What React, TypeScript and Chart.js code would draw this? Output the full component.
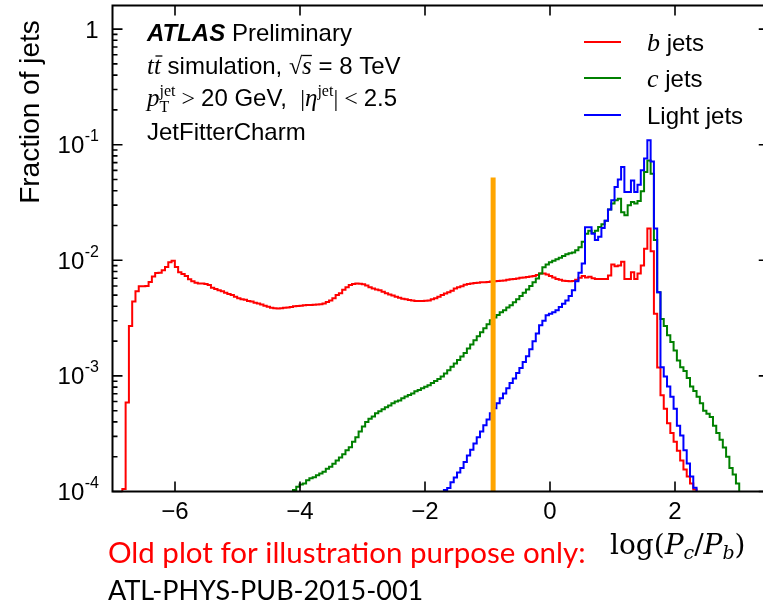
import React, { useEffect, useRef } from "react";
import { Chart, registerables } from "chart.js";

Chart.register(...registerables);

// ---------- axis ranges & ticks ----------
const X_MIN = -7;
const X_MAX = 3.4;
const FRAME_RIGHT = 3.5;
const Y_MIN = 1e-4;
const Y_MAX = 1.6;
const xTickValues = [-6, -4, -2, 0, 2];
const xTickLabels = ["\u22126", "\u22124", "\u22122", "0", "2"];
const yTickValues = [1, 0.1, 0.01, 0.001, 0.0001];
const yTickBase = ["1", "10", "10", "10", "10"];
const yTickExp = ["", "-1", "-2", "-3", "-4"];

// ---------- histogram binning ----------
const HIST_MIN = -7;
const BIN_WIDTH = 0.0525;

// b jets (red), first bin index 3
const bFirstBin = 3;
const bJets = [
  1.05e-4, 5.9e-4, 2.7e-3, 4.4e-3, 5.4e-3, 5.95e-3, 5.95e-3, 6.0e-3, 6.5e-3, 7.25e-3,
  7.75e-3, 7.8e-3, 8.2e-3, 8.75e-3, 9.6e-3, 9.9e-3, 8.75e-3, 7.9e-3, 7.6e-3, 7.3e-3,
  6.85e-3, 6.6e-3, 6.4e-3, 6.3e-3, 6.3e-3, 6.25e-3, 6.1e-3, 5.8e-3, 5.65e-3, 5.5e-3,
  5.4e-3, 5.25e-3, 5.1e-3, 5.0e-3, 4.85e-3, 4.7e-3, 4.6e-3, 4.55e-3, 4.45e-3, 4.4e-3,
  4.3e-3, 4.22e-3, 4.15e-3, 4.05e-3, 3.96e-3, 3.88e-3, 3.84e-3, 3.82e-3, 3.84e-3, 3.88e-3,
  3.9e-3, 3.95e-3, 4.0e-3, 4.02e-3, 4.05e-3, 4.08e-3, 4.1e-3, 4.1e-3, 4.12e-3, 4.14e-3,
  4.16e-3, 4.22e-3, 4.35e-3, 4.5e-3, 4.7e-3, 5.0e-3, 5.2e-3, 5.55e-3, 5.85e-3, 6.1e-3,
  6.25e-3, 6.3e-3, 6.28e-3, 6.2e-3, 6.05e-3, 5.85e-3, 5.7e-3, 5.6e-3, 5.5e-3, 5.35e-3,
  5.2e-3, 5.05e-3, 4.95e-3, 4.85e-3, 4.75e-3, 4.66e-3, 4.6e-3, 4.53e-3, 4.48e-3, 4.45e-3,
  4.45e-3, 4.45e-3, 4.46e-3, 4.5e-3, 4.6e-3, 4.7e-3, 4.83e-3, 5.0e-3, 5.15e-3, 5.3e-3,
  5.45e-3, 5.7e-3, 5.85e-3, 5.95e-3, 6.15e-3, 6.25e-3, 6.3e-3, 6.35e-3, 6.4e-3, 6.45e-3,
  6.45e-3, 6.5e-3, 6.55e-3, 6.6e-3, 6.63e-3, 6.67e-3, 6.7e-3, 6.78e-3, 6.85e-3, 6.9e-3,
  6.95e-3, 7.05e-3, 7.1e-3, 7.17e-3, 7.25e-3, 7.32e-3, 7.48e-3, 7.67e-3, 7.67e-3, 7.55e-3,
  7.3e-3, 7.1e-3, 6.9e-3, 6.78e-3, 6.67e-3, 6.63e-3, 6.6e-3, 6.63e-3, 6.78e-3, 7.05e-3,
  7.32e-3, 7.1e-3, 7.2e-3, 7.0e-3, 6.9e-3, 6.9e-3, 6.9e-3, 6.9e-3, 7.4e-3, 9.2e-3,
  8.9e-3, 9.0e-3, 9.7e-3, 6.9e-3, 6.9e-3, 7.9e-3, 6.9e-3, 7.7e-3, 9.0e-3, 1.26e-2,
  1.88e-2, 1.2e-2, 3.45e-3, 1.18e-3, 6.8e-4, 5.2e-4, 3.9e-4, 3.2e-4, 2.7e-4, 2.25e-4,
  1.85e-4, 1.55e-4, 1.35e-4, 1.17e-4, 1.04e-4,
];

// c jets (green), first bin index 55
const cFirstBin = 55;
const cJets = [
  1.03e-4, 1.1e-4, 1.15e-4, 1.17e-4, 1.25e-4, 1.3e-4, 1.33e-4, 1.38e-4, 1.43e-4, 1.48e-4,
  1.57e-4, 1.64e-4, 1.74e-4, 1.85e-4, 1.97e-4, 2.1e-4, 2.27e-4, 2.42e-4, 2.7e-4, 2.95e-4,
  3.3e-4, 3.65e-4, 4.0e-4, 4.25e-4, 4.45e-4, 4.75e-4, 4.95e-4, 5.15e-4, 5.35e-4, 5.55e-4,
  5.8e-4, 6.0e-4, 6.13e-4, 6.4e-4, 6.65e-4, 6.85e-4, 7.05e-4, 7.35e-4, 7.55e-4, 7.8e-4,
  8.05e-4, 8.3e-4, 8.7e-4, 9.05e-4, 9.4e-4, 9.9e-4, 1.05e-3, 1.12e-3, 1.2e-3, 1.28e-3,
  1.37e-3, 1.47e-3, 1.58e-3, 1.73e-3, 1.87e-3, 2.03e-3, 2.2e-3, 2.38e-3, 2.58e-3, 2.8e-3,
  3.03e-3, 3.2e-3, 3.37e-3, 3.55e-3, 3.7e-3, 3.9e-3, 4.08e-3, 4.33e-3, 4.6e-3, 4.9e-3,
  5.25e-3, 5.6e-3, 6.0e-3, 6.45e-3, 6.95e-3, 7.7e-3, 8.7e-3, 9.2e-3, 9.6e-3, 9.9e-3,
  1.02e-2, 1.05e-2, 1.09e-2, 1.13e-2, 1.15e-2, 1.17e-2, 1.22e-2, 1.3e-2, 1.45e-2, 1.7e-2,
  1.8e-2, 1.72e-2, 1.8e-2, 1.94e-2, 2.05e-2, 2.2e-2, 2.75e-2, 3.1e-2, 3.3e-2, 3.4e-2,
  2.6e-2, 2.45e-2, 3.0e-2, 3.2e-2, 3.1e-2, 3.25e-2, 3.95e-2, 5.8e-2, 7.3e-2, 5.6e-2,
  1.5e-2, 5.3e-3, 3.1e-3, 2.7e-3, 2.25e-3, 1.96e-3, 1.66e-3, 1.36e-3, 1.19e-3, 1.1e-3,
  9.6e-4, 8.1e-4, 7.4e-4, 6.6e-4, 5.8e-4, 5.0e-4, 4.7e-4, 4.4e-4, 3.7e-4, 3.2e-4,
  2.8e-4, 2.4e-4, 2.0e-4, 1.6e-4, 1.4e-4, 1.17e-4,
];

// light jets (blue), first bin index 101
const lightFirstBin = 101;
const lightJets = [
  1.03e-4, 1.07e-4, 1.2e-4, 1.32e-4, 1.46e-4, 1.6e-4, 1.8e-4, 2.05e-4, 2.3e-4, 2.6e-4,
  2.95e-4, 3.3e-4, 3.75e-4, 4.2e-4, 4.75e-4, 5.25e-4, 5.8e-4, 6.4e-4, 7.05e-4, 7.8e-4,
  8.7e-4, 9.5e-4, 1.06e-3, 1.17e-3, 1.32e-3, 1.48e-3, 1.7e-3, 1.99e-3, 2.33e-3, 2.74e-3,
  3.0e-3, 3.35e-3, 3.45e-3, 3.55e-3, 3.7e-3, 3.95e-3, 4.2e-3, 4.5e-3, 4.9e-3, 5.5e-3,
  6.6e-3, 7.8e-3, 9.4e-3, 1.93e-2, 1.93e-2, 1.7e-2, 1.5e-2, 1.6e-2, 1.9e-2, 2.2e-2,
  2.75e-2, 3.3e-2, 4.3e-2, 5.0e-2, 6.4e-2, 3.9e-2, 3.9e-2, 4.9e-2, 3.9e-2, 4.5e-2,
  6.0e-2, 7.6e-2, 0.109, 7.15e-2, 1.88e-2, 5.3e-3, 1.19e-3, 9.9e-4, 8.1e-4, 6.6e-4,
  5.2e-4, 3.7e-4, 3.05e-4, 2.27e-4, 1.75e-4, 1.35e-4, 1.08e-4,
];

// vertical orange cut line
const cutValue = -0.91;
const cutTop = 0.052;

// legend
const legendMath = ["b", "c", ""];
const legendText = [" jets", " jets", "Light jets"];
const seriesColors = ["#FF0000", "#008000", "#0000FF"];

const SANS = '"Liberation Sans", Arial, Helvetica, sans-serif';
const SERIF = '"Liberation Serif", "Times New Roman", serif';
const MATH = '"DejaVu Serif", "Liberation Serif", serif';
const NOTE = 'Lato, "Open Sans", sans-serif';

const FLOOR = 1e-6;

function histPoints(firstBin: number, values: number[]) {
  const pts: { x: number; y: number }[] = [];
  const edge = (i: number) => HIST_MIN + (firstBin + i) * BIN_WIDTH;
  pts.push({ x: edge(0), y: FLOOR });
  values.forEach((v, i) => {
    pts.push({ x: edge(i), y: v });
    pts.push({ x: edge(i + 1), y: v });
  });
  pts.push({ x: edge(values.length), y: FLOOR });
  return pts;
}

type Run = {
  t: string;
  font: string;
  dy?: number;
  bar?: number;
  barDx?: number;
  stack?: { t: string; font: string; dy: number };
};

function drawRuns(ctx: CanvasRenderingContext2D, x: number, y: number, runs: Run[]) {
  let cx = x;
  for (const r of runs) {
    ctx.font = r.font;
    const w = ctx.measureText(r.t).width;
    ctx.fillText(r.t, cx, y + (r.dy ?? 0));
    let adv = w;
    if (r.stack) {
      ctx.font = r.stack.font;
      const w2 = ctx.measureText(r.stack.t).width;
      ctx.fillText(r.stack.t, cx, y + r.stack.dy);
      adv = Math.max(w, w2);
    }
    if (r.bar !== undefined) {
      const dx = r.barDx ?? 0;
      ctx.save();
      ctx.lineWidth = 1.3;
      ctx.beginPath();
      ctx.moveTo(cx + dx, y + r.bar);
      ctx.lineTo(cx + dx + w, y + r.bar);
      ctx.stroke();
      ctx.restore();
    }
    cx += adv;
  }
  return cx;
}

const decorPlugin = {
  id: "decor",
  afterDraw(chart: any) {
    const { ctx, chartArea: a, scales } = chart;
    const xs = scales.x;
    const ys = scales.y;
    const W = chart.width;
    ctx.save();
    ctx.strokeStyle = "#000";
    ctx.fillStyle = "#000";
    ctx.lineCap = "butt";

    // frame
    ctx.lineWidth = 2;
    ctx.beginPath();
    ctx.moveTo(W, a.top);
    ctx.lineTo(a.left, a.top);
    ctx.lineTo(a.left, a.bottom);
    ctx.lineTo(W, a.bottom);
    ctx.stroke();

    // ticks
    const rf = xs.getPixelForValue(FRAME_RIGHT);
    ctx.lineWidth = 1.6;
    ctx.beginPath();
    for (const v of xTickValues) {
      const px = xs.getPixelForValue(v);
      ctx.moveTo(px, a.bottom);
      ctx.lineTo(px, a.bottom - 10);
      ctx.moveTo(px, a.top);
      ctx.lineTo(px, a.top + 10);
    }
    for (let e = -4; e <= 0; e++) {
      for (let m = 1; m <= 9; m++) {
        const v = m * Math.pow(10, e);
        if (v < Y_MIN * 0.999 || v > Y_MAX) continue;
        const py = ys.getPixelForValue(v);
        const len = m === 1 ? 10 : 5;
        ctx.moveTo(a.left, py);
        ctx.lineTo(a.left + len, py);
        ctx.moveTo(rf, py);
        ctx.lineTo(rf - len, py);
      }
    }
    ctx.stroke();

    // x tick labels
    ctx.textBaseline = "alphabetic";
    ctx.textAlign = "center";
    ctx.font = `24px ${SANS}`;
    xTickValues.forEach((v, i) => {
      ctx.fillText(xTickLabels[i], xs.getPixelForValue(v), a.bottom + 27);
    });

    // y tick labels
    ctx.textAlign = "left";
    const xr = a.left - 14;
    yTickValues.forEach((v, i) => {
      const py = ys.getPixelForValue(v);
      ctx.font = `16px ${SANS}`;
      const ew = yTickExp[i] ? ctx.measureText(yTickExp[i]).width : 0;
      ctx.font = `24px ${SANS}`;
      const bw = ctx.measureText(yTickBase[i]).width;
      const x0 = xr - ew - bw;
      ctx.fillText(yTickBase[i], x0, py + 8.5);
      if (yTickExp[i]) {
        ctx.font = `16px ${SANS}`;
        ctx.fillText(yTickExp[i], x0 + bw + 0.5, py - 3.5);
      }
    });

    // y axis title
    ctx.save();
    ctx.translate(31, 112);
    ctx.rotate(-Math.PI / 2);
    ctx.textAlign = "center";
    ctx.textBaseline = "middle";
    ctx.font = `28px ${SANS}`;
    ctx.fillText("Fraction of jets", 0, 0);
    ctx.restore();

    // x axis title
    ctx.textAlign = "left";
    ctx.textBaseline = "alphabetic";
    drawRuns(ctx, 610, 554, [
      { t: "log(", font: `28px ${MATH}` },
      { t: "P", font: `italic 28px ${MATH}` },
      { t: "c", font: `italic 19px ${MATH}`, dy: 5 },
      { t: "/", font: `28px ${MATH}` },
      { t: "P", font: `italic 28px ${MATH}` },
      { t: "b", font: `italic 19px ${MATH}`, dy: 5 },
      { t: ")", font: `28px ${MATH}` },
    ]);

    // ATLAS label block
    const tx = 147;
    drawRuns(ctx, tx, 41, [
      { t: "ATLAS", font: `italic bold 24px ${SANS}` },
      { t: " Preliminary", font: `24px ${SANS}` },
    ]);
    drawRuns(ctx, tx, 74, [
      { t: "t", font: `italic 25px ${SERIF}` },
      { t: "t", font: `italic 25px ${SERIF}`, bar: -18, barDx: 1.5 },
      { t: " simulation, ", font: `24px ${SANS}` },
      { t: "\u221A", font: `24px ${SERIF}` },
      { t: "s", font: `italic 25px ${SERIF}`, bar: -18.5 },
      { t: " = 8 TeV", font: `24px ${SANS}` },
    ]);
    drawRuns(ctx, tx, 106, [
      { t: "p", font: `italic 25px ${SERIF}` },
      { t: "jet", font: `16px ${SERIF}`, dy: -10, stack: { t: "T", font: `16px ${SERIF}`, dy: 6 } },
      { t: " > ", font: `24px ${SERIF}` },
      { t: "20 GeV,  ", font: `24px ${SANS}` },
      { t: "|", font: `24px ${SERIF}` },
      { t: "\u03B7", font: `italic 25px ${SERIF}` },
      { t: "jet", font: `16px ${SERIF}`, dy: -10 },
      { t: "| < ", font: `24px ${SERIF}` },
      { t: "2.5", font: `24px ${SANS}` },
    ]);
    drawRuns(ctx, tx, 140, [{ t: "JetFitterCharm", font: `24px ${SANS}` }]);

    // legend
    const legendY = [42, 78, 115];
    legendMath.forEach((m, i) => {
      const y = legendY[i];
      ctx.strokeStyle = seriesColors[i];
      ctx.lineWidth = 2;
      ctx.beginPath();
      ctx.moveTo(584, y);
      ctx.lineTo(621, y);
      ctx.stroke();
      ctx.fillStyle = "#000";
      const runs: Run[] = [];
      if (m) runs.push({ t: m, font: `italic 26px ${SERIF}` });
      runs.push({ t: legendText[i], font: `24px ${SANS}` });
      drawRuns(ctx, 647, y + 8.5, runs);
    });

    // notes below the plot
    ctx.fillStyle = "#FF0000";
    ctx.font = `29.5px ${NOTE}`;
    ctx.fillText("Old plot for illustration purpose only:", 108, 563);
    ctx.fillStyle = "#000";
    ctx.font = `27px ${NOTE}`;
    ctx.fillText("ATL-PHYS-PUB-2015-001", 108, 600);

    ctx.restore();
  },
};

export default function App() {
  const ref = useRef<HTMLCanvasElement>(null);
  useEffect(() => {
    if (!ref.current) return;
    const chart = new Chart(ref.current, {
      type: "line",
      data: {
        datasets: [
          {
            label: "cut",
            data: [
              { x: cutValue, y: FLOOR },
              { x: cutValue, y: cutTop },
            ],
            borderColor: "#FFA500",
            borderWidth: 5,
            pointRadius: 0,
          },
          {
            label: "Light jets",
            data: histPoints(lightFirstBin, lightJets),
            borderColor: seriesColors[2],
            borderWidth: 2,
            pointRadius: 0,
          },
          {
            label: "c jets",
            data: histPoints(cFirstBin, cJets),
            borderColor: seriesColors[1],
            borderWidth: 2,
            pointRadius: 0,
          },
          {
            label: "b jets",
            data: histPoints(bFirstBin, bJets),
            borderColor: seriesColors[0],
            borderWidth: 2,
            pointRadius: 0,
          },
        ],
      },
      options: {
        animation: false,
        responsive: false,
        devicePixelRatio: 1,
        layout: { padding: { left: 112.5, right: 0.5, top: 5.5, bottom: 112.5 } },
        scales: {
          x: { type: "linear", min: X_MIN, max: X_MAX, display: false },
          y: { type: "logarithmic", min: Y_MIN, max: Y_MAX, display: false },
        },
        plugins: { legend: { display: false }, tooltip: { enabled: false } },
        elements: { line: { tension: 0, fill: false }, point: { radius: 0 } },
      },
      plugins: [decorPlugin],
    } as any);
    return () => chart.destroy();
  }, []);
  return (
    <div style={{ position: "absolute", left: 0, top: 0, width: 763, height: 604, background: "#fff", overflow: "hidden" }}>
      <canvas ref={ref} width={763} height={604} style={{ width: 763, height: 604, display: "block" }} />
    </div>
  );
}
